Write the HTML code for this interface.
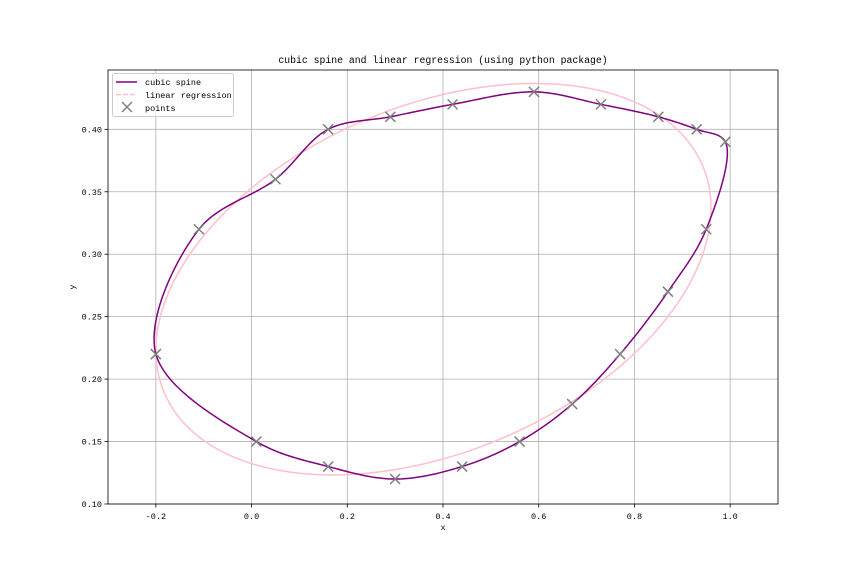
<!DOCTYPE html>
<html><head><meta charset="utf-8"><style>
body{margin:0;background:#fff;}
svg text{font-family:"Liberation Mono",monospace;font-size:8.5px;fill:#000;}
</style></head><body>
<svg id="chart" width="864" height="576" xmlns="http://www.w3.org/2000/svg">
<rect width="864" height="576" fill="#fff"/>
<g id="grid"></g><g id="series"></g><g id="axes"></g>
<text x="443" y="63" text-anchor="middle" style="font-size:9.8px">cubic spine and linear regression (using python package)</text>
<text x="443" y="530" text-anchor="middle">x</text>
<text x="75" y="287" text-anchor="middle" transform="rotate(-90 75 287)">y</text>
<g>
<rect x="112.5" y="73.5" width="121" height="43" rx="2" fill="#fff" fill-opacity="0.8" stroke="#ccc"/>
<line x1="116" y1="82" x2="137" y2="82" stroke="purple" stroke-width="1.5"/>
<text x="145" y="85">cubic spine</text>
<line x1="116" y1="94.5" x2="137" y2="94.5" stroke="pink" stroke-width="1.5" stroke-dasharray="5,2"/>
<text x="145" y="98">linear regression</text>
<path d="M122 102 L132 112 M132 102 L122 112" stroke="#808080" stroke-width="1.5"/>
<text x="145" y="111">points</text>
</g>
</svg>
<script>
const pointsX=[-0.2,-0.11,0.05,0.16,0.29,0.42,0.59,0.73,0.85,0.93,0.99,0.95,0.87,0.77,0.67,0.56,0.44,0.30,0.16,0.01,-0.2];
const pointsY=[0.22,0.32,0.36,0.40,0.41,0.42,0.43,0.42,0.41,0.40,0.39,0.32,0.27,0.22,0.18,0.15,0.13,0.12,0.13,0.15,0.22];
const ellipseCenter=[0.38,0.28];
const ellipseAxisX=[0.58,0.0];
const ellipseAxisY=[0.057,0.146];
const xTicks=[-0.2,0.0,0.2,0.4,0.6,0.8,1.0];
const yTicks=[0.10,0.15,0.20,0.25,0.30,0.35,0.40];
const NS='http://www.w3.org/2000/svg';
const L=108,R=778,T=70,B=504,X0=-0.3,X1=1.1,Y0=0.10,Y1=0.4475;
const sx=v=>L+(v-X0)/(X1-X0)*(R-L);
const sy=v=>B-(v-Y0)/(Y1-Y0)*(B-T);
function mk(tag,attrs,parent){const e=document.createElementNS(NS,tag);for(const k in attrs)e.setAttribute(k,attrs[k]);document.getElementById(parent).appendChild(e);return e;}
xTicks.forEach(t=>{const x=sx(t);
const g=mk('line',{x1:x,x2:x,y1:T,y2:B,stroke:'#b0b0b0','stroke-width':0.8},'grid');

mk('line',{x1:x,x2:x,y1:B,y2:B+3.5,stroke:'#000','stroke-width':0.8},'axes');
const tx=mk('text',{x:x,y:B+15,'text-anchor':'middle'},'axes');tx.textContent=t.toFixed(1);
});
yTicks.forEach(t=>{const y=sy(t);
const g=mk('line',{x1:L,x2:R,y1:y,y2:y,stroke:'#b0b0b0','stroke-width':0.8},'grid');

mk('line',{x1:L-3.5,x2:L,y1:y,y2:y,stroke:'#000','stroke-width':0.8},'axes');
const tx=mk('text',{x:L-6,y:y+3,'text-anchor':'end'},'axes');tx.textContent=t.toFixed(2);
});
const fr=mk('rect',{x:L,y:T,width:R-L,height:B-T,fill:'none',stroke:'#000','stroke-width':0.8},'axes');

let d='';for(let i=0;i<=200;i++){const t=i/200*2*Math.PI;
const x=ellipseCenter[0]+ellipseAxisX[0]*Math.cos(t)+ellipseAxisX[1]*Math.sin(t);
const y=ellipseCenter[1]+ellipseAxisY[0]*Math.cos(t)+ellipseAxisY[1]*Math.sin(t);
d+=(i?'L':'M')+sx(x).toFixed(2)+' '+sy(y).toFixed(2);}
const el=mk('path',{d:d,fill:'none',stroke:'pink','stroke-width':1.5},'series');

const P=pointsX.slice(0,-1).map((x,i)=>[sx(x),sy(pointsY[i])]);const n=P.length;
let s='M'+P[0][0]+' '+P[0][1];
for(let i=0;i<n;i++){const p0=P[(i-1+n)%n],p1=P[i],p2=P[(i+1)%n],p3=P[(i+2)%n];
const dist=(a,b)=>Math.pow(Math.hypot(a[0]-b[0],a[1]-b[1]),0.5)||1e-4;
const t0=0,t1=t0+dist(p0,p1),t2=t1+dist(p1,p2),t3=t2+dist(p2,p3);
for(let k=1;k<=20;k++){const t=t1+(t2-t1)*k/20;
const lerp=(a,b,ta,tb)=>[0,1].map(j=>((tb-t)*a[j]+(t-ta)*b[j])/(tb-ta));
const A1=lerp(p0,p1,t0,t1),A2=lerp(p1,p2,t1,t2),A3=lerp(p2,p3,t2,t3);
const B1=lerp(A1,A2,t0,t2),B2=lerp(A2,A3,t1,t3),C=lerp(B1,B2,t1,t2);
s+='L'+C[0].toFixed(2)+' '+C[1].toFixed(2);}}
const sp=mk('path',{d:s,fill:'none',stroke:'purple','stroke-width':1.5},'series');

pointsX.forEach((x,i)=>{const px=sx(x),py=sy(pointsY[i]);
const m=mk('path',{d:`M${px-5} ${py-5}L${px+5} ${py+5}M${px+5} ${py-5}L${px-5} ${py+5}`,stroke:'#808080','stroke-width':1.5},'series');
});
</script>
</body></html>
